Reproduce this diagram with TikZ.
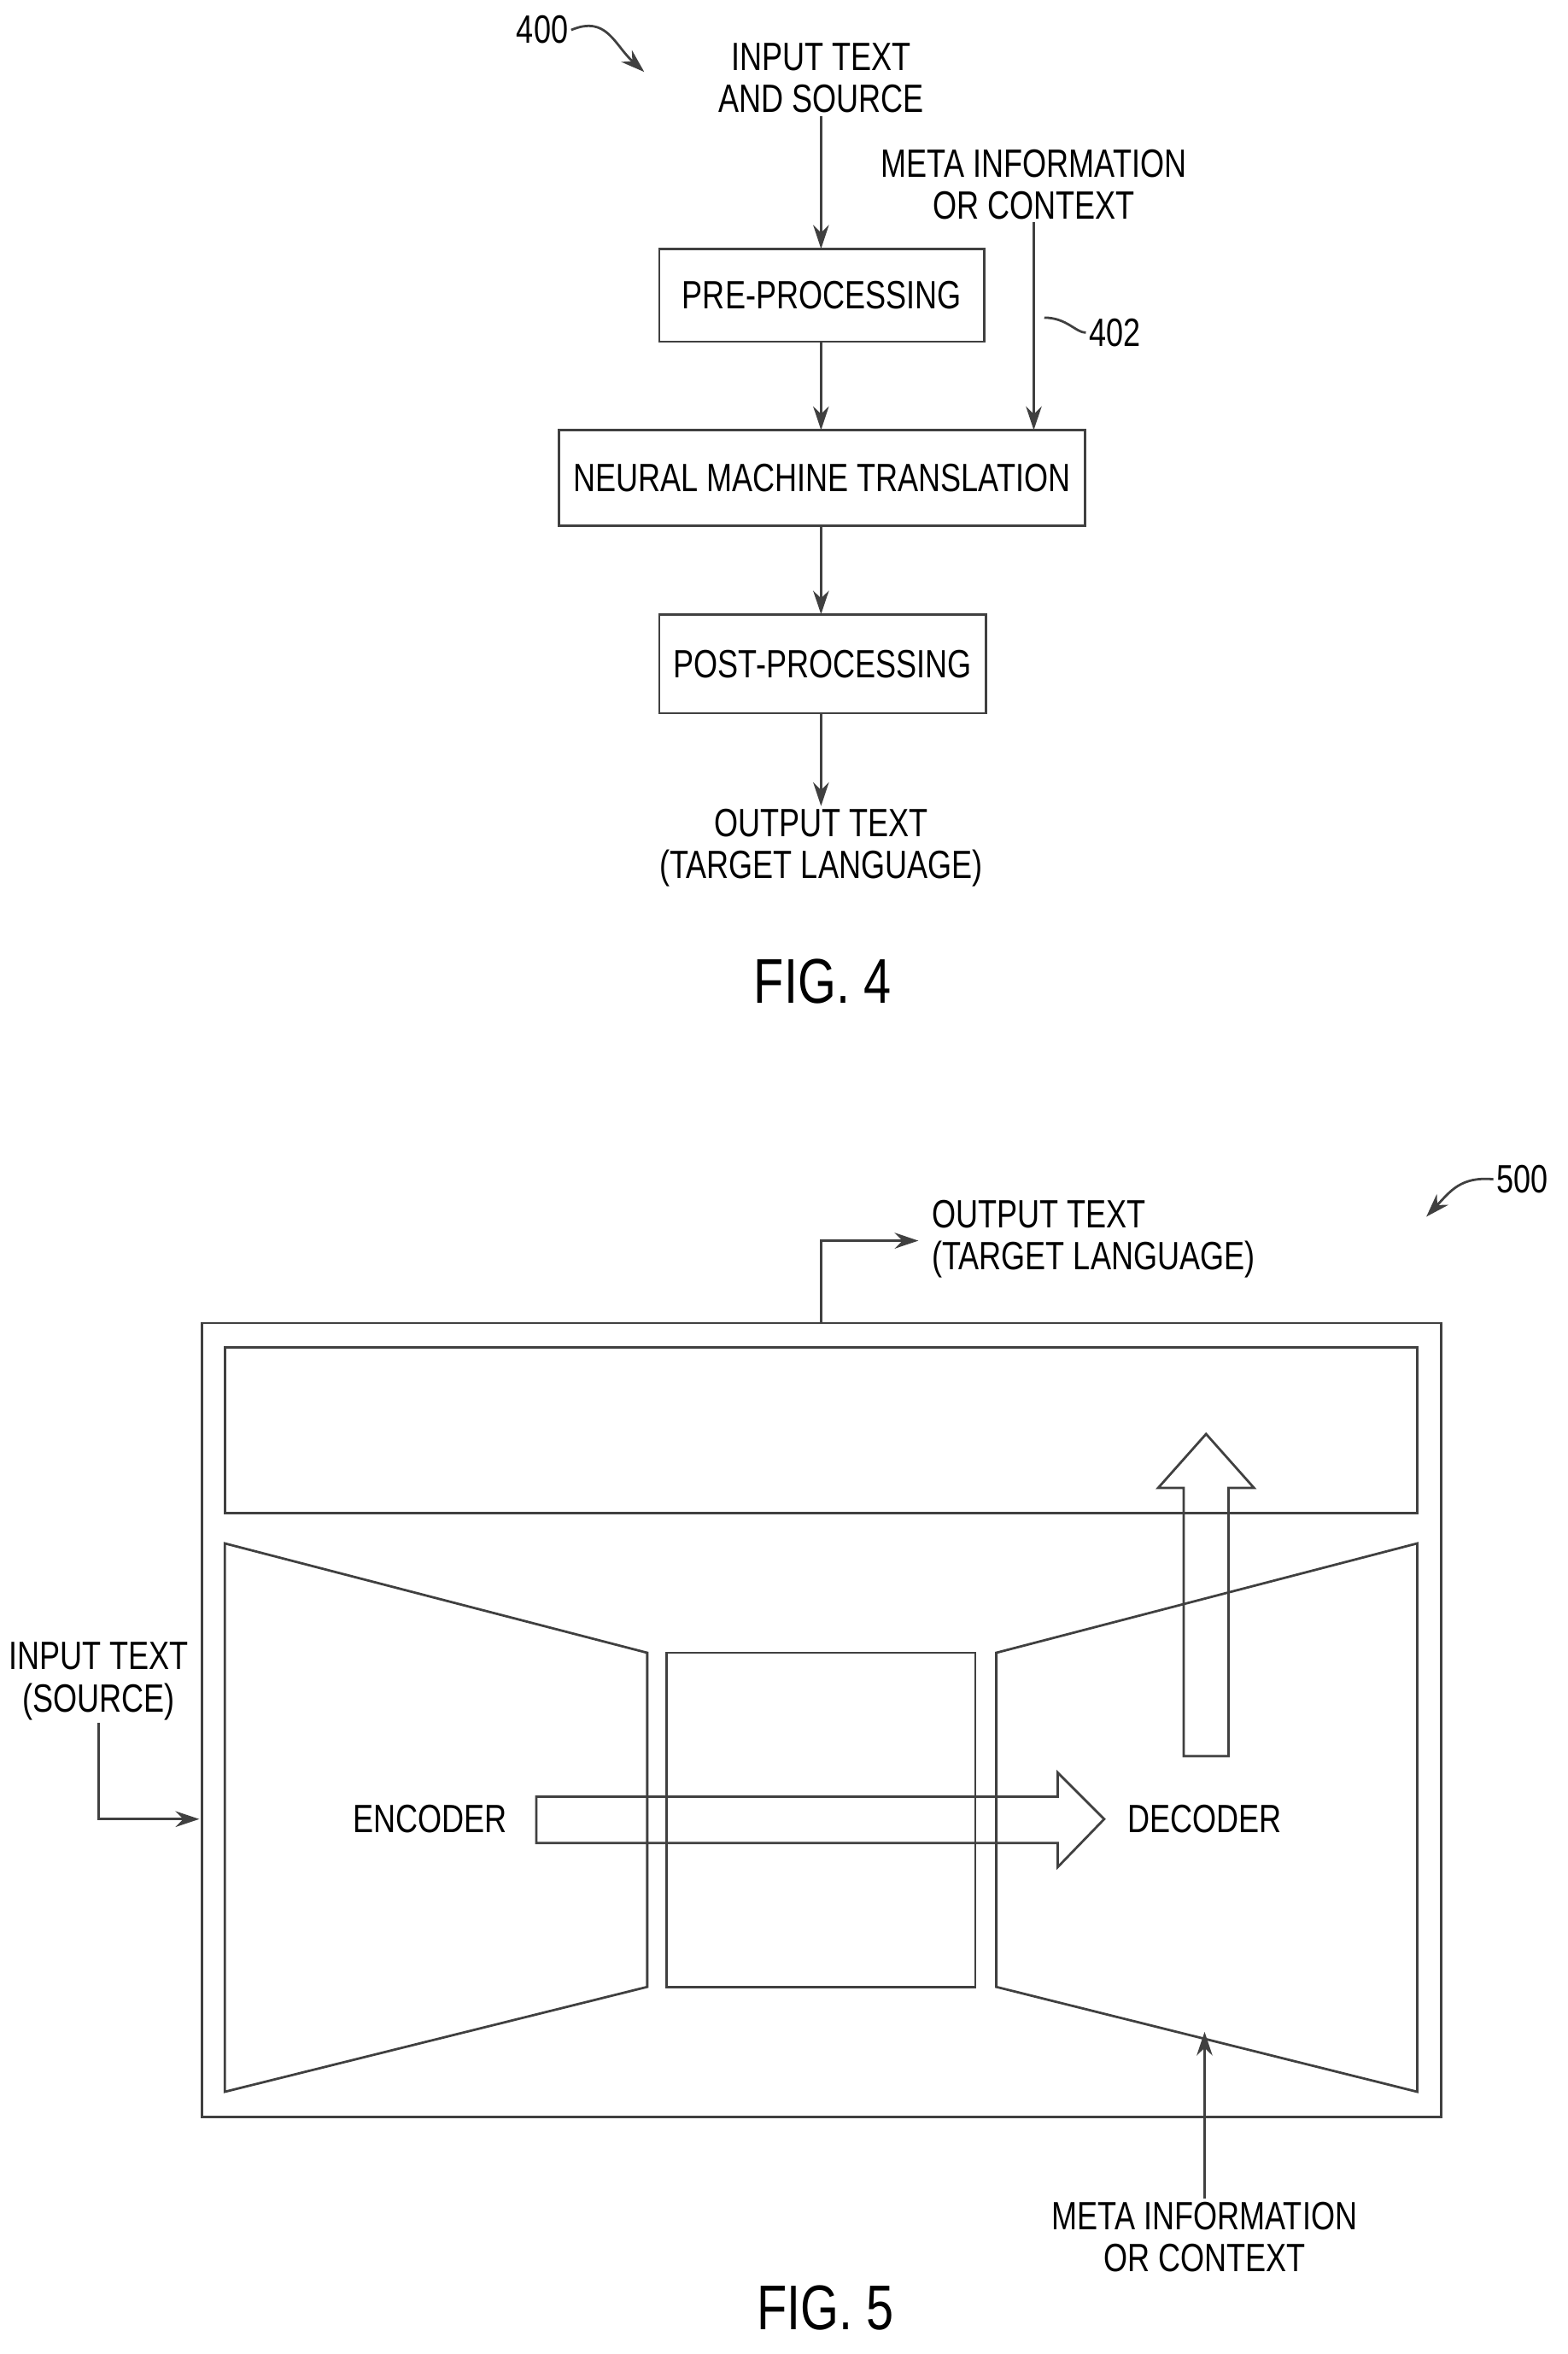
\documentclass[tikz,border=0pt]{standalone}
\usepackage{fontspec}
\setmainfont{Liberation Sans}[FakeStretch=0.78]
\usetikzlibrary{arrows.meta}
\begin{document}
\begin{tikzpicture}[x=0.02cm,y=-0.02cm,
  ln/.style={draw=black!75,line width=0.9pt},
  ar/.style={ln,-{Stealth[length=9pt,width=6pt]}},
  box/.style={ln,draw=black!75},
  lbl/.style={font=\fontsize{15}{16}\selectfont,align=center,inner sep=1pt},
  fig/.style={font=\fontsize{24}{26}\selectfont}]
\useasboundingbox (0,0) rectangle (1046,1571);
% FIG 4
\node[lbl] (n400) at (362,20) {400};
\coordinate (a400) at (430,48);
\draw[ar] (n400.east) .. controls (405,10) and (410,30) .. (a400);
\node[lbl] (in4) at (548,52) {INPUT TEXT\\AND SOURCE};
\draw[box] (440,166) rectangle (657,228);
\node[lbl] (pre) at (548.5,197) {PRE-PROCESSING};
\coordinate (preT) at (548,166); \coordinate (preB) at (548,228);
\node[lbl] (meta4) at (690,123) {META INFORMATION\\OR CONTEXT};
\draw[box] (373,287) rectangle (724,351);
\node[lbl] (nmt) at (548.5,319) {NEURAL MACHINE TRANSLATION};
\coordinate (nmtT) at (548,287); \coordinate (nmtM) at (690,287); \coordinate (nmtB) at (548,351);
\draw[box] (440,410) rectangle (658,476);
\node[lbl] (post) at (549,443) {POST-PROCESSING};
\coordinate (postT) at (548,410); \coordinate (postB) at (548,476);
\node[lbl] (out4) at (548,566) {OUTPUT TEXT\\(TARGET LANGUAGE)};
\draw[ar] (in4.south) -- (preT);
\draw[ar] (preB) -- (nmtT);
\draw[ar] (meta4.south -| nmtM) -- (nmtM);
\draw[ar] (nmtB) -- (postT);
\draw[ar] (postB) -- (out4.north);
\node[lbl] (n402) at (744,222) {402};
\coordinate (l402) at (697,212);
\draw[ln] (n402.west) .. controls (718,222) and (712,212) .. (l402);
\node[fig] (f4) at (549,655) {FIG. 4};
% FIG 5
\node[lbl] (n500) at (1016,787) {500};
\coordinate (a500) at (952,812);
\draw[ar] (n500.west) .. controls (975,785) and (968,795) .. (a500);
\node[lbl,align=left,anchor=west] (out5) at (620,827) {OUTPUT TEXT\\(TARGET LANGUAGE)};
\draw[box] (135,883) rectangle (962,1413);
\draw[box] (150,899) rectangle (946,1010);
\coordinate (topC) at (548,883);
\draw[ar] (topC) -- (548,828) -- (613,828);
\draw[box] (150,1030) -- (432,1103) -- (432,1326) -- (150,1396) -- cycle;
\draw[box] (445,1103) rectangle (651,1326);
\draw[box] (665,1103) -- (946,1030) -- (946,1396) -- (665,1326) -- cycle;
\draw[box] (358,1199) -- (706,1199) -- (706,1183) -- (737,1214) -- (706,1246) -- (706,1230) -- (358,1230) -- cycle;
\draw[box] (790,1172) -- (790,993) -- (773,993) -- (805,957) -- (837,993) -- (820,993) -- (820,1172) -- cycle;
\node[lbl] (enc) at (287,1214) {ENCODER};
\node[lbl] (dec) at (804,1214) {DECODER};
\node[lbl] (in5) at (66,1122) {INPUT TEXT\\(SOURCE)};
\coordinate (encL) at (133,1214);
\draw[ar] (in5.south) -- (66,1214) -- (encL);
\node[lbl] (meta5) at (804,1493) {META INFORMATION\\OR CONTEXT};
\coordinate (decB) at (804,1356);
\draw[ar] (meta5.north) -- (decB);
\node[fig] (f5) at (551,1540) {FIG. 5};
\end{tikzpicture}
\end{document}
